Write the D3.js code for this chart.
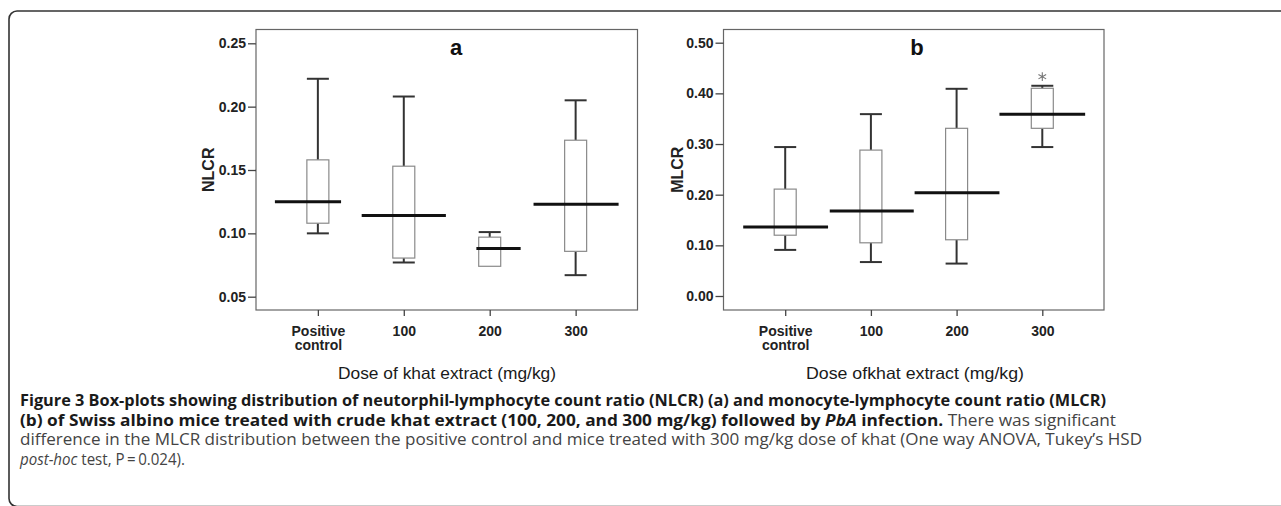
<!DOCTYPE html>
<html>
<head>
<meta charset="utf-8">
<script src="https://cdn.jsdelivr.net/npm/d3@7"></script>
<style>
  body { margin: 0; background: #fff; }
  svg { display: block; }
</style>
</head>
<body>
<svg id="fig"></svg>
<script>
const groups = ["Positive control", "100", "200", "300"];

// panel a: NLCR box stats
const nlcrMin = [0.1, 0.077, 0.074, 0.067];
const nlcrQ1 = [0.108, 0.0805, 0.074, 0.0858];
const nlcrMedian = [0.125, 0.114, 0.088, 0.123];
const nlcrQ3 = [0.158, 0.153, 0.097, 0.1735];
const nlcrMax = [0.222, 0.208, 0.101, 0.205];
const nlcrTicks = [0.05, 0.1, 0.15, 0.2, 0.25];

// panel b: MLCR box stats
const mlcrMin = [0.091, 0.067, 0.064, 0.294];
const mlcrQ1 = [0.12, 0.105, 0.111, 0.331];
const mlcrMedian = [0.136, 0.168, 0.204, 0.359];
const mlcrQ3 = [0.211, 0.288, 0.331, 0.41];
const mlcrMax = [0.294, 0.359, 0.409, 0.415];
const mlcrOutliers = [{ group: "300", value: 0.433 }];
const mlcrTicks = [0, 0.1, 0.2, 0.3, 0.4, 0.5];

// median bars in the source are drawn oddly wide / clipped, in step units
const medianSpanA = [[-0.5, 0.27], [-0.49, 0.49], [-0.155, 0.36], [-0.49, 0.5]];
const medianSpanB = [[-0.49, 0.5], [-0.48, 0.5], [-0.49, 0.5], [-0.5, 0.5]];

const svgWidth = 1281;
const svgHeight = 506;
const plotTop = 29.5;
const plotBottom = 310;
const boxW = 22;
const tickFont = "'Liberation Sans', Arial, sans-serif";

const svg = d3.select("#fig").attr("width", svgWidth).attr("height", svgHeight);

// outer rounded figure frame (right side and bottom run off the page)
svg.append("rect")
  .attr("x", 9).attr("y", 11)
  .attr("width", 1320).attr("height", 495.5)
  .attr("rx", 8).attr("ry", 8)
  .attr("fill", "none")
  .attr("stroke", "#333")
  .attr("stroke-width", 1.6);

function drawPanel(opt) {
  const g = svg.append("g");
  const x = d3.scalePoint().domain(groups).range([opt.left, opt.right]).padding(0.72);
  const y = d3.scaleLinear().domain(opt.yDomain).range(opt.yRange);
  const step = x.step();

  // frame
  g.append("rect")
    .attr("x", opt.left).attr("y", plotTop)
    .attr("width", opt.right - opt.left).attr("height", plotBottom - plotTop)
    .attr("fill", "none").attr("stroke", "#666").attr("stroke-width", 1.2);

  const yAxis = g.append("g")
    .attr("transform", `translate(${opt.left},0)`)
    .call(d3.axisLeft(y).tickValues(opt.ticks).tickSize(8).tickPadding(2).tickFormat(d3.format(".2f")));
  yAxis.select(".domain").remove();
  yAxis.selectAll(".tick line").attr("stroke", "#444").attr("stroke-width", 1.3);
  yAxis.selectAll(".tick text")
    .attr("font-family", tickFont).attr("font-size", 14).attr("font-weight", "bold").attr("fill", "#222");

  const xAxis = g.append("g")
    .attr("transform", `translate(0,${plotBottom})`)
    .call(d3.axisBottom(x).tickSize(6).tickPadding(10));
  xAxis.select(".domain").remove();
  xAxis.selectAll(".tick line").attr("stroke", "#444").attr("stroke-width", 1.3);
  xAxis.selectAll(".tick text")
    .attr("font-family", tickFont).attr("font-size", 14).attr("font-weight", "bold").attr("fill", "#222")
    .each(function (d) {
      const words = d.split(" ");
      if (words.length < 2) return;
      const t = d3.select(this).text(null);
      words.forEach((w, i) => {
        t.append("tspan").attr("x", 0).attr("dy", i === 0 ? "0.71em" : "1.0em").text(w);
      });
      t.attr("dy", null);
    });

  // axis titles
  g.append("text")
    .attr("transform", `translate(${opt.yTitleX},${(plotTop + plotBottom) / 2}) rotate(-90)`)
    .attr("text-anchor", "middle")
    .attr("font-family", tickFont).attr("font-size", 16).attr("font-weight", "bold").attr("fill", "#222")
    .text(opt.yTitle);

  g.append("text")
    .attr("x", opt.xTitleX).attr("y", 378.5)
    .attr("text-anchor", "middle")
    .attr("font-family", tickFont).attr("font-size", 16.5).attr("fill", "#1a1a1a")
    .attr("textLength", 218).attr("lengthAdjust", "spacingAndGlyphs")
    .text(opt.xTitle);

  g.append("text")
    .attr("x", opt.labelX).attr("y", 55)
    .attr("text-anchor", "middle")
    .attr("font-family", tickFont).attr("font-size", 22).attr("font-weight", "bold").attr("fill", "#111")
    .text(opt.label);

  const rows = groups.map((k, i) => ({
    k, min: opt.min[i], q1: opt.q1[i], med: opt.med[i], q3: opt.q3[i], max: opt.max[i], span: opt.span[i],
  }));

  rows.forEach((d) => {
    const cx = x(d.k);
    const wh = g.append("g").attr("stroke", "#333").attr("stroke-width", 2);
    if (d.max > d.q3) {
      wh.append("line").attr("x1", cx).attr("x2", cx).attr("y1", y(d.q3)).attr("y2", y(d.max));
    }
    wh.append("line").attr("x1", cx - boxW / 2).attr("x2", cx + boxW / 2).attr("y1", y(d.max)).attr("y2", y(d.max));
    if (d.min < d.q1) {
      wh.append("line").attr("x1", cx).attr("x2", cx).attr("y1", y(d.q1)).attr("y2", y(d.min));
      wh.append("line").attr("x1", cx - boxW / 2).attr("x2", cx + boxW / 2).attr("y1", y(d.min)).attr("y2", y(d.min));
    }
    g.append("rect")
      .attr("x", cx - boxW / 2).attr("y", y(d.q3))
      .attr("width", boxW).attr("height", y(d.q1) - y(d.q3))
      .attr("fill", "#fff").attr("stroke", "#8a8a8a").attr("stroke-width", 1.2);
  });

  rows.forEach((d) => {
    const cx = x(d.k);
    g.append("line")
      .attr("x1", cx + d.span[0] * step).attr("x2", cx + d.span[1] * step)
      .attr("y1", y(d.med)).attr("y2", y(d.med))
      .attr("stroke", "#111").attr("stroke-width", 3);
  });

  (opt.outliers || []).forEach((o) => {
    g.append("path")
      .attr("d", d3.symbol().type(d3.symbolAsterisk).size(55)())
      .attr("transform", `translate(${x(o.group)},${y(o.value)})`)
      .attr("fill", "none").attr("stroke", "#777").attr("stroke-width", 1.1);
  });
}

drawPanel({
  left: 256, right: 637.5,
  yDomain: [0.05, 0.25], yRange: [296.7, 43.3], ticks: nlcrTicks,
  min: nlcrMin, q1: nlcrQ1, med: nlcrMedian, q3: nlcrQ3, max: nlcrMax, span: medianSpanA,
  yTitle: "NLCR", yTitleX: 214, xTitle: "Dose of khat extract (mg/kg)", xTitleX: 447,
  label: "a", labelX: 456,
});

drawPanel({
  left: 723.5, right: 1104,
  yDomain: [0, 0.5], yRange: [296, 42.7], ticks: mlcrTicks,
  min: mlcrMin, q1: mlcrQ1, med: mlcrMedian, q3: mlcrQ3, max: mlcrMax, span: medianSpanB,
  outliers: mlcrOutliers,
  yTitle: "MLCR", yTitleX: 683, xTitle: "Dose ofkhat extract (mg/kg)", xTitleX: 915,
  label: "b", labelX: 917,
});

// caption
const capFont = "'Open Sans', 'Noto Sans', sans-serif";
const captionLines = [
  { y: 406, width: 1086, parts: [
    { t: "Figure 3 Box-plots showing distribution of neutorphil-lymphocyte count ratio (NLCR) (a) and monocyte-lymphocyte count ratio (MLCR)", b: true },
  ] },
  { y: 425.5, width: 1096, parts: [
    { t: "(b) of Swiss albino mice treated with crude khat extract (100, 200, and 300 mg/kg) followed by ", b: true },
    { t: "PbA", b: true, i: true },
    { t: " infection.", b: true },
    { t: " There was significant" },
  ] },
  { y: 445, width: 1122, parts: [
    { t: "difference in the MLCR distribution between the positive control and mice treated with 300 mg/kg dose of khat (One way ANOVA, Tukey\u2019s HSD" },
  ] },
  { y: 464.5, width: 165, parts: [
    { t: "post-hoc", i: true },
    { t: " test, P\u2009=\u20090.024)." },
  ] },
];

captionLines.forEach((line) => {
  const t = svg.append("text")
    .attr("x", 20).attr("y", line.y)
    .attr("font-family", capFont).attr("font-size", 16)
    .attr("textLength", line.width).attr("lengthAdjust", "spacingAndGlyphs")
    .attr("xml:space", "preserve");
  line.parts.forEach((p) => {
    t.append("tspan")
      .attr("font-weight", p.b ? "bold" : "normal")
      .attr("font-style", p.i ? "italic" : "normal")
      .attr("fill", p.b ? "#1a1a1a" : "#444")
      .text(p.t);
  });
});
</script>
</body>
</html>
